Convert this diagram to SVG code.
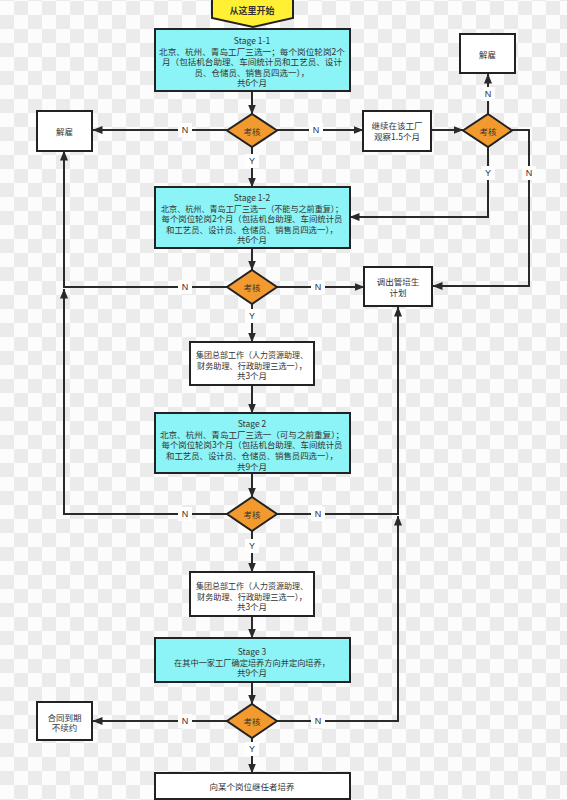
<svg xmlns="http://www.w3.org/2000/svg" width="567" height="800" viewBox="0 0 567 800">
<defs>
<pattern id="checker" x="0" y="1" width="28" height="28" patternUnits="userSpaceOnUse">
<rect width="28" height="28" fill="#fcfcfc"/>
<rect x="14" y="0" width="14" height="14" fill="#ebebeb"/>
<rect x="0" y="14" width="14" height="14" fill="#ebebeb"/>
</pattern>
<marker id="arr" viewBox="0 0 10 8" refX="9.5" refY="4" markerWidth="10" markerHeight="8" markerUnits="userSpaceOnUse" orient="auto">
<path d="M0,0 L10,4 L0,8 z" fill="#2a2a2a"/>
</marker>
<style>
text{font-family:"Noto Sans CJK SC","Noto Sans",sans-serif;font-size:8.5px;fill:#333;text-anchor:middle;dominant-baseline:central}
.box{fill:#fff;stroke:#222;stroke-width:2}
.cyan{fill:#8cf3f6;stroke:#222;stroke-width:2}
.dia{fill:#f39a2f;stroke:#222;stroke-width:2}
.edge{fill:none;stroke:#2a2a2a;stroke-width:2}
.arrow{marker-end:url(#arr)}
.lblbg{fill:#fff}
.lbl{font-family:"Liberation Sans","Noto Sans",sans-serif;font-size:9px}
.title{font-weight:bold;font-size:9px}
</style>
</defs>
<rect width="567" height="800" fill="url(#checker)"/>

<g id="connectors">
<path class="edge arrow" d="M252,91 L252,114"/>
<path class="edge arrow" d="M227,130 L93,130"/>
<path class="edge arrow" d="M277,130 L363,130"/>
<path class="edge arrow" d="M252,147 L252,187"/>
<path class="edge arrow" d="M431,130 L463,130"/>
<path class="edge arrow" d="M488,114 L488,74"/>
<path class="edge arrow" d="M488,147 L488,217 L350,217"/>
<path class="edge arrow" d="M512,130 L529,130 L529,286 L433,286"/>
<path class="edge arrow" d="M252,248 L252,270"/>
<path class="edge arrow" d="M227,287 L64,287 L64,151"/>
<path class="edge arrow" d="M277,287 L364,287"/>
<path class="edge arrow" d="M252,304 L252,342"/>
<path class="edge arrow" d="M252,385 L252,413"/>
<path class="edge arrow" d="M252,473 L252,497"/>
<path class="edge arrow" d="M227,514 L64,514 L64,289"/>
<path class="edge arrow" d="M277,514 L398,514 L398,307"/>
<path class="edge arrow" d="M252,531 L252,572"/>
<path class="edge arrow" d="M252,616 L252,638"/>
<path class="edge arrow" d="M252,682 L252,704"/>
<path class="edge arrow" d="M227,721 L93,721"/>
<path class="edge arrow" d="M277,721 L398,721 L398,516"/>
<path class="edge arrow" d="M252,738 L252,773"/>
<g id="labels">
<rect class="lblbg" x="178" y="123" width="14" height="14"/><text class="lbl" x="185" y="130">N</text>
<rect class="lblbg" x="309" y="123" width="14" height="14"/><text class="lbl" x="316" y="130">N</text>
<rect class="lblbg" x="245" y="154" width="14" height="14"/><text class="lbl" x="252" y="161">Y</text>
<rect class="lblbg" x="481" y="87" width="14" height="14"/><text class="lbl" x="488" y="94">N</text>
<rect class="lblbg" x="481" y="166" width="14" height="14"/><text class="lbl" x="488" y="173">Y</text>
<rect class="lblbg" x="522" y="166" width="14" height="14"/><text class="lbl" x="529" y="173">N</text>
<rect class="lblbg" x="178" y="280" width="14" height="14"/><text class="lbl" x="185" y="287">N</text>
<rect class="lblbg" x="311" y="280" width="14" height="14"/><text class="lbl" x="318" y="287">N</text>
<rect class="lblbg" x="245" y="309" width="14" height="14"/><text class="lbl" x="252" y="316">Y</text>
<rect class="lblbg" x="178" y="507" width="14" height="14"/><text class="lbl" x="185" y="514">N</text>
<rect class="lblbg" x="311" y="507" width="14" height="14"/><text class="lbl" x="318" y="514">N</text>
<rect class="lblbg" x="245" y="539" width="14" height="14"/><text class="lbl" x="252" y="546">Y</text>
<rect class="lblbg" x="178" y="714" width="14" height="14"/><text class="lbl" x="185" y="721">N</text>
<rect class="lblbg" x="311" y="714" width="14" height="14"/><text class="lbl" x="318" y="721">N</text>
<rect class="lblbg" x="245" y="742" width="14" height="14"/><text class="lbl" x="252" y="749">Y</text>
</g>
</g>

<g id="start">
<polygon points="212,-1 293,-1 293,18 253,27 212,18" fill="#fff033" stroke="#222" stroke-width="2"/>
<text class="title" x="252" y="10">从这里开始</text>
</g>

<g id="stage1-1">
<rect class="cyan" x="155" y="29" width="195" height="62"/>
<text x="252" y="40">Stage 1-1</text>
<text x="252" y="50.5" textLength="186" lengthAdjust="spacingAndGlyphs">北京、杭州、青岛工厂三选一；每个岗位轮岗2个</text>
<text x="252" y="61" textLength="180" lengthAdjust="spacingAndGlyphs">月（包括机台助理、车间统计员和工艺员、设计</text>
<text x="252" y="71.5">员、仓储员、销售员四选一），</text>
<text x="252" y="82">共6个月</text>
</g>

<g id="decision1">
<polygon class="dia" points="252,114 277,130.5 252,147 227,130.5"/>
<text x="252" y="130.5">考核</text>
</g>

<g id="fire1">
<rect class="box" x="37" y="111" width="55" height="40"/>
<text x="64.5" y="131">解雇</text>
</g>

<g id="observe">
<rect class="box" x="363" y="111" width="68" height="40"/>
<text x="397" y="125">继续在该工厂</text>
<text x="397" y="136">观察1.5个月</text>
</g>

<g id="decision2">
<polygon class="dia" points="488,114 512,130.5 488,147 463,130.5"/>
<text x="488" y="130.5">考核</text>
</g>

<g id="fire2">
<rect class="box" x="460" y="34" width="55" height="39"/>
<text x="487.5" y="54">解雇</text>
</g>

<g id="stage1-2">
<rect class="cyan" x="155" y="187" width="195" height="61"/>
<text x="252" y="197">Stage 1-2</text>
<text x="252" y="207.5" textLength="182" lengthAdjust="spacingAndGlyphs">北京、杭州、青岛工厂三选一（不能与之前重复）；</text>
<text x="252" y="218" textLength="181" lengthAdjust="spacingAndGlyphs">每个岗位轮岗2个月（包括机台助理、车间统计员</text>
<text x="252" y="228.5" textLength="172" lengthAdjust="spacingAndGlyphs">和工艺员、设计员、仓储员、销售员四选一），</text>
<text x="252" y="239">共6个月</text>
</g>

<g id="decision3">
<polygon class="dia" points="252,270 277,287 252,304 227,287"/>
<text x="252" y="287">考核</text>
</g>

<g id="transfer">
<rect class="box" x="364" y="267" width="68" height="39"/>
<text x="398" y="281">调出管培生</text>
<text x="398" y="292">计划</text>
</g>

<g id="hq1">
<rect class="box" x="190" y="342" width="124" height="43"/>
<text x="252" y="354" textLength="112" lengthAdjust="spacingAndGlyphs">集团总部工作（人力资源助理、</text>
<text x="252" y="364.5" textLength="110" lengthAdjust="spacingAndGlyphs">财务助理、行政助理三选一），</text>
<text x="252" y="375">共3个月</text>
</g>

<g id="stage2">
<rect class="cyan" x="155" y="413" width="195" height="60"/>
<text x="252" y="423">Stage 2</text>
<text x="252" y="433.5" textLength="184" lengthAdjust="spacingAndGlyphs">北京、杭州、青岛工厂三选一（可与之前重复）；</text>
<text x="252" y="444" textLength="181" lengthAdjust="spacingAndGlyphs">每个岗位轮岗3个月（包括机台助理、车间统计员</text>
<text x="252" y="455" textLength="172" lengthAdjust="spacingAndGlyphs">和工艺员、设计员、仓储员、销售员四选一），</text>
<text x="252" y="465.5">共9个月</text>
</g>

<g id="decision4">
<polygon class="dia" points="252,497 277,514 252,531 227,514"/>
<text x="252" y="514">考核</text>
</g>

<g id="hq2">
<rect class="box" x="190" y="572" width="124" height="44"/>
<text x="252" y="585" textLength="112" lengthAdjust="spacingAndGlyphs">集团总部工作（人力资源助理、</text>
<text x="252" y="595.5" textLength="110" lengthAdjust="spacingAndGlyphs">财务助理、行政助理三选一），</text>
<text x="252" y="606">共3个月</text>
</g>

<g id="stage3">
<rect class="cyan" x="155" y="638" width="195" height="44"/>
<text x="252" y="651">Stage 3</text>
<text x="252" y="661.5" textLength="156" lengthAdjust="spacingAndGlyphs">在其中一家工厂确定培养方向并定向培养，</text>
<text x="252" y="672">共9个月</text>
</g>

<g id="decision5">
<polygon class="dia" points="252,704 277,721 252,738 227,721"/>
<text x="252" y="721">考核</text>
</g>

<g id="contract">
<rect class="box" x="37" y="702" width="55" height="38"/>
<text x="64.5" y="716.5">合同到期</text>
<text x="64.5" y="727">不续约</text>
</g>

<g id="successor">
<rect class="box" x="155" y="773" width="195" height="26"/>
<text x="252" y="786">向某个岗位继任者培养</text>
</g>
</svg>
